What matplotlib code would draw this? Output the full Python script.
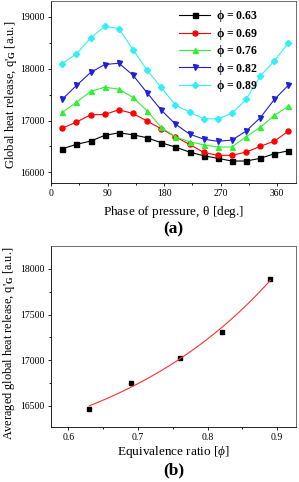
import numpy as np
import matplotlib
matplotlib.use("Agg")
import matplotlib.pyplot as plt

plt.rcParams['font.family'] = ['Liberation Serif', 'DejaVu Serif']
plt.rcParams['mathtext.fontset'] = 'custom'
plt.rcParams['mathtext.rm'] = 'Liberation Serif'
plt.rcParams['mathtext.it'] = 'Liberation Serif:italic'
plt.rcParams['mathtext.bf'] = 'Liberation Serif:bold'

# phase of pressure [deg]
theta = [18, 40.5, 63, 85.5, 108, 130.5, 153, 175.5, 198, 220.5,
         243, 265.5, 288, 310.5, 333, 355.5, 378]

# global heat release for each equivalence ratio
q063 = [16455, 16540, 16603, 16713, 16763, 16725, 16667, 16571, 16488,
        16391, 16320, 16270, 16218, 16218, 16270, 16359, 16416]
q069 = [16854, 16970, 17111, 17118, 17207, 17137, 16989, 16841, 16686,
        16540, 16385, 16328, 16328, 16391, 16501, 16603, 16796]
q076 = [17157, 17355, 17562, 17644, 17606, 17446, 17188, 16868, 16686,
        16590, 16532, 16488, 16488, 16686, 16868, 17099, 17278]
q082 = [17413, 17677, 17928, 18082, 18107, 17876, 17535, 17201, 16931,
        16738, 16642, 16598, 16623, 16796, 17053, 17407, 17683]
q089 = [18101, 18287, 18595, 18820, 18776, 18371, 17972, 17639, 17297,
        17163, 17033, 17033, 17137, 17407, 17857, 18152, 18499]

series = [q063, q069, q076, q082, q089]
labels = ['0.63', '0.69', '0.76', '0.82', '0.89']
colors = ['black', '#ff0000', '#33ee33', '#2020d8', '#33eef5']
markers = ['s', 'o', '^', 'v', 'D']

# averaged values
phi = [0.63, 0.69, 0.76, 0.82, 0.89]
q_avg = [16470, 16752, 17030, 17311, 17890]

fig = plt.figure(figsize=(2.99, 4.82), dpi=100)

# (a)
ax1 = fig.add_axes([0.1706, 0.621, 0.8194, 0.376])
for q, lab, c, m in zip(series, labels, colors, markers):
    ms = 3.6 if m != 'D' else 3.2
    ax1.plot(theta, q, color=c, marker=m, ms=ms, lw=0.8,
             label=r'$\mathbf{\phi}$ = ' + lab)
ax1.set_xlim(0, 390)
ax1.set_ylim(15800, 19300)
ax1.set_xticks([0, 90, 180, 270, 360])
ax1.set_xticks([45, 135, 225, 315], minor=True)
ax1.set_yticks([16000, 17000, 18000, 19000])
ax1.set_yticks([16500, 17500, 18500], minor=True)
ax1.set_xlabel(r'Phase of pressure, $\mathrm{\theta}$ [deg.]', fontsize=9.5, va='top')
ax1.xaxis.set_label_coords(0.5, -0.115)
ax1.set_ylabel(r"Global heat release, q'$_{\mathbf{G}}$ [a.u.]", fontsize=9, va='center')
ax1.yaxis.set_label_coords(-0.165, 0.484)
leg = ax1.legend(loc='upper left', bbox_to_anchor=(0.5, 0.995), frameon=False,
                 prop={'weight': 'bold', 'size': 8.5}, handlelength=2.6,
                 handletextpad=0.5, labelspacing=0.12, borderpad=0)
ax1.text(0.5, -0.255, '(a)', transform=ax1.transAxes, ha='center', va='center',
         fontsize=12.5, fontweight='bold')

# (b)
ax2 = fig.add_axes([0.1706, 0.1141, 0.8194, 0.3755])
ax2.plot(phi, q_avg, 's', color='black', ms=3.2)
# exponential growth fit y = y0 + A*exp(x/t)
x = np.array(phi)
y = np.array(q_avg)
best = None
for t in np.linspace(0.03, 1.0, 2000):
    M = np.column_stack([np.ones_like(x), np.exp(x / t)])
    sol, res, *_ = np.linalg.lstsq(M, y, rcond=None)
    r = np.sum((M @ sol - y) ** 2)
    if best is None or r < best[0]:
        best = (r, t, sol)
_, t_fit, (y0, a1) = best
xfit = np.linspace(phi[0], phi[-1], 100)
ax2.plot(xfit, y0 + a1 * np.exp(xfit / t_fit), color='#ff3030', lw=0.8)
ax2.set_xlim(0.575, 0.927)
ax2.set_ylim(16270, 18250)
ax2.set_xticks([0.6, 0.7, 0.8, 0.9])
ax2.set_xticklabels(['0.6', '0.7', '0.8', '0.9'])
ax2.set_xticks([0.65, 0.75, 0.85], minor=True)
ax2.set_yticks([16500, 17000, 17500, 18000])
ax2.set_yticks([16750, 17250, 17750], minor=True)
ax2.set_xlabel(r'Equivalence ratio [$\phi$]', fontsize=9.5, va='top')
ax2.xaxis.set_label_coords(0.5, -0.095)
ax2.set_ylabel(r"Averaged global heat release, q'$_{\mathbf{G}}$ [a.u.]", fontsize=8.8, va='center')
ax2.yaxis.set_label_coords(-0.17, 0.46)
ax2.text(0.5, -0.237, '(b)', transform=ax2.transAxes, ha='center', va='center',
         fontsize=12.5, fontweight='bold')

for ax in (ax1, ax2):
    ax.tick_params(which='both', direction='out', labelsize=7, width=0.6, pad=2)
    ax.tick_params(which='major', length=2.5)
    ax.tick_params(which='minor', length=1.5)
    for s in ax.spines.values():
        s.set_linewidth(0.6)
    ax.spines['top'].set_color('#555555')
    ax.spines['right'].set_color('#555555')

fig.savefig('out.png', dpi=100)
